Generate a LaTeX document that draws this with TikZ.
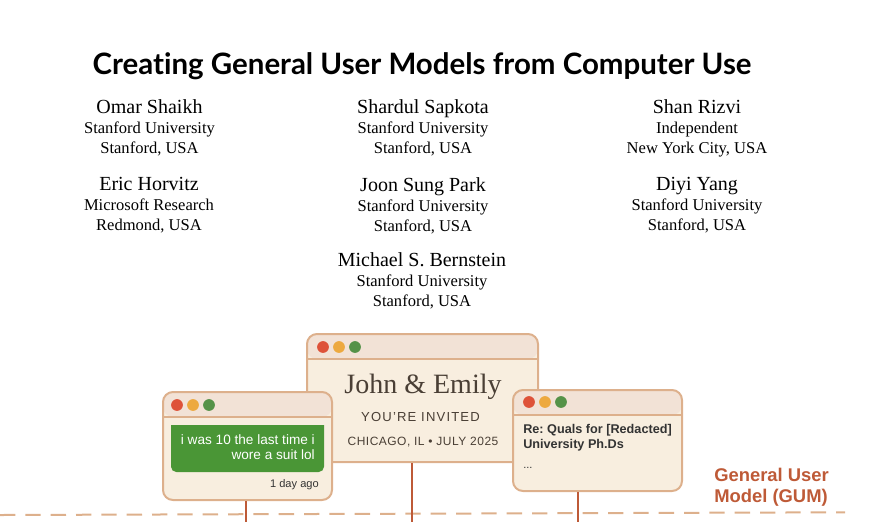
\documentclass[tikz,border=0pt]{standalone}
\usepackage{fontspec}
\setmainfont{Liberation Serif}
\setsansfont{Liberation Sans}
\newfontfamily\titlefont[Ligatures=CommonOff]{Lato}
\newfontfamily\cardfont[LetterSpace=9]{Liberation Sans}
\newfontfamily\placefont[LetterSpace=4]{Liberation Sans}
\usepackage{tikz}
\definecolor{WinHead}{RGB}{242,226,214}
\definecolor{WinBody}{RGB}{248,238,223}
\definecolor{WinEdge}{RGB}{221,176,140}
\definecolor{DotRed}{RGB}{222,82,57}
\definecolor{DotAmber}{RGB}{237,169,63}
\definecolor{DotGreen}{RGB}{85,146,72}
\definecolor{BubbleGreen}{RGB}{74,150,54}
\definecolor{GumRust}{RGB}{190,90,55}
\definecolor{CardInk}{RGB}{74,63,53}
\frenchspacing
\begin{document}
\begin{tikzpicture}[x=0.75pt,y=-0.75pt,
   author/.style={align=center,inner sep=0pt,font=\fontsize{12.4}{15}\selectfont,text=black},
   win/.style n args={2}{draw=WinEdge,line width=1.5pt,fill=WinBody,rounded corners=7.5pt,
      inner sep=0pt,minimum width=#1*0.75pt,minimum height=#2*0.75pt,
      path picture={\fill[WinHead] (path picture bounding box.north west) rectangle
         ([yshift=-18.75pt]path picture bounding box.north east);
         \draw[WinEdge,line width=1.5pt] ([yshift=-18.75pt]path picture bounding box.north west) --
         ([yshift=-18.75pt]path picture bounding box.north east);}},
   dot/.style={circle,inner sep=0pt,minimum size=8.8pt},
   wintext/.style={inner sep=0pt,text=black!80,font=\sffamily\fontsize{8.3}{11.3}\selectfont},
   stem/.style={GumRust,line width=1.2pt}]
\useasboundingbox (0,0) rectangle (877,522);
\node[inner sep=0pt,font=\titlefont\bfseries\fontsize{22.1}{26}\selectfont] (title) at (422,66) {Creating General User Models from Computer Use};
\foreach \id/\x/\y/\who/\org/\place in %
{omar/149.5/128/Omar Shaikh/Stanford University/{Stanford, USA},
 shardul/423/128/Shardul Sapkota/Stanford University/{Stanford, USA},
 shan/697/128/Shan Rizvi/Independent/{New York City, USA},
 eric/149/205.5/Eric Horvitz/Microsoft Research/{Redmond, USA},
 joon/423/205.5/Joon Sung Park/Stanford University/{Stanford, USA},
 diyi/697/205.5/Diyi Yang/Stanford University/{Stanford, USA},
 michael/422/281/Michael S. Bernstein/Stanford University/{Stanford, USA}} {
   \node[author] (\id) at (\x,\y) {{\fontsize{15}{15}\selectfont \who}\\\org\\\place};
}
\coordinate (dashL) at (0,515);
\coordinate (dashR) at (845,512.3);
\draw[WinEdge,line width=1.5pt,dash pattern=on 11.5pt off 7.5pt] (dashL) -- (dashR);
% cards
\node[win={231}{128}] (invite) at (422.5,398) {};
\node[win={169}{108}] (chat) at (247.5,446) {};
\node[win={169}{101}] (mail) at (597.5,440.5) {};
\coordinate (chatEnd) at (246,522);
\coordinate (inviteEnd) at (412,522);
\coordinate (mailEnd) at (578,522);
\draw[stem] (chat.south -| chatEnd) -- (chatEnd);
\draw[stem] (invite.south -| inviteEnd) -- (inviteEnd);
\draw[stem] (mail.south -| mailEnd) -- (mailEnd);
\foreach \win/\x/\y in {invite/323/347,chat/177/405,mail/529/402} {
   \node[dot,fill=DotRed] (\win R) at (\x,\y) {};
   \node[dot,fill=DotAmber] (\win A) at (\x+16,\y) {};
   \node[dot,fill=DotGreen] (\win G) at (\x+32,\y) {};
}
\node[inner sep=0pt,text=CardInk,font=\fontsize{21}{26}\selectfont] (names) at (423,386.5) {John \& Emily};
\node[inner sep=0pt,text=CardInk,font=\cardfont\fontsize{9.8}{12}\selectfont] (invited) at (420.5,417) {YOU’RE INVITED};
\node[inner sep=0pt,text=CardInk,font=\placefont\fontsize{9}{11}\selectfont] (where) at (423,442) {CHICAGO, IL • JULY 2025};
\fill[BubbleGreen] (171,425) -- (324,425) [rounded corners=4pt] -- (324,472) -- (171,472) [sharp corners] -- cycle;
\node[wintext,text=white,align=right,anchor=north east,font=\sffamily\fontsize{10.2}{11.3}\selectfont] (bubble) at (315,434) {i was 10 the last time i\\wore a suit lol};
\node[wintext,anchor=east] (age) at (319,484.5) {1 day ago};
\node[wintext,anchor=north west,align=left,font=\sffamily\bfseries\fontsize{9.5}{11.3}\selectfont] (subject) at (523,424) {Re: Quals for [Redacted]\\University Ph.Ds};
\node[wintext,anchor=west] (more) at (523,468) {...};
\node[inner sep=0pt,anchor=north west,align=left,text=GumRust,font=\sffamily\bfseries\fontsize{13.8}{15.7}\selectfont] (gum) at (714,468) {General User\\Model (GUM)};
\end{tikzpicture}
\end{document}
